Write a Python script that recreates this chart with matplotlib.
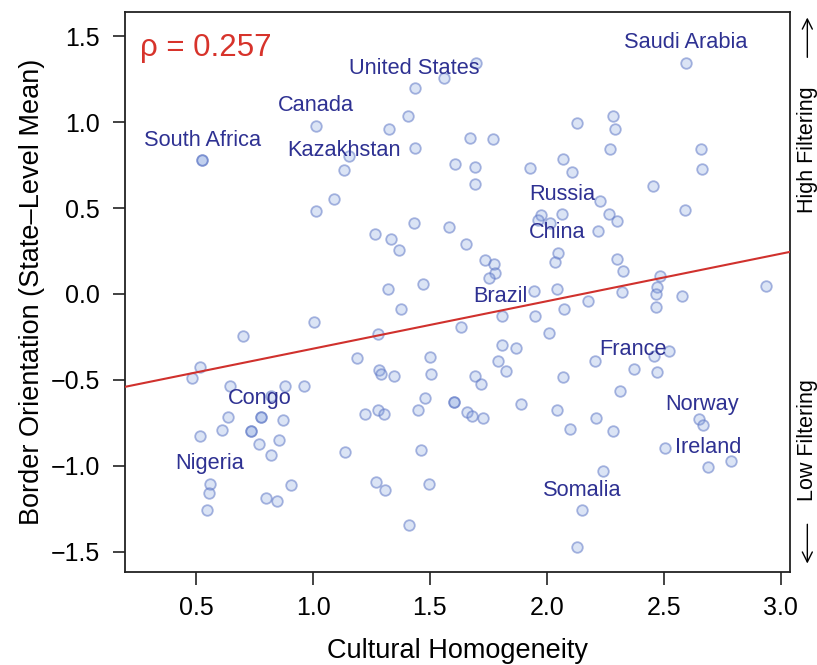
import numpy as np
import matplotlib
matplotlib.use("Agg")
import matplotlib.pyplot as plt

plt.rcParams['font.family'] = ['Liberation Sans', 'DejaVu Sans']

# cultural homogeneity (x) and border orientation (y) per state
homog = [1.438, 1.559, 1.697, 1.406, 1.014, 1.323, 1.438, 0.525, 0.525, 1.152,
         1.132, 1.609, 1.088, 1.012, 1.430, 1.580, 1.263, 1.333, 1.369, 1.655,
         1.319, 1.470, 2.596, 2.127, 2.282, 2.292, 1.673, 1.768, 2.269, 2.658,
         2.070, 2.108, 1.694, 1.926, 2.662, 1.694, 2.452, 2.229, 2.592, 1.977,
         1.963, 2.015, 2.065, 2.265, 2.301, 2.218, 2.048, 2.037, 1.734, 1.773,
         1.777, 1.754, 2.298, 2.325, 2.482, 2.469, 2.936, 1.944, 2.044, 2.320,
         2.580, 2.466, 2.466, 2.177, 2.075, 1.948, 1.808, 1.632, 2.011, 1.808,
         1.867, 1.789, 1.827, 1.691, 1.719, 2.208, 2.459, 2.522, 2.371, 2.472,
         2.071, 2.311, 1.891, 2.043, 2.211, 2.098, 2.285, 1.602, 1.602, 1.659,
         1.680, 1.726, 2.650, 2.668, 2.505, 2.690, 2.787, 2.241, 2.151, 2.130,
         1.378, 1.005, 0.700, 1.278, 0.517, 0.482, 1.186, 1.500, 1.505, 1.283,
         1.289, 1.346, 0.643, 0.820, 0.880, 0.962, 1.479, 0.636, 0.777, 0.777,
         0.870, 1.223, 1.280, 1.302, 1.449, 0.610, 0.734, 0.734, 0.516, 0.767,
         0.855, 0.820, 1.135, 1.460, 0.560, 0.556, 0.547, 0.905, 0.801, 0.845,
         1.269, 1.310, 1.494, 1.410]
orient = [1.198, 1.256, 1.345, 1.035, 0.979, 0.957, 0.849, 0.781, 0.781, 0.800,
          0.723, 0.758, 0.551, 0.485, 0.415, 0.390, 0.347, 0.318, 0.254, 0.289,
          0.030, 0.060, 1.343, 0.996, 1.033, 0.959, 0.907, 0.901, 0.843, 0.843,
          0.785, 0.707, 0.740, 0.733, 0.725, 0.640, 0.628, 0.539, 0.490, 0.457,
          0.428, 0.415, 0.463, 0.465, 0.423, 0.366, 0.240, 0.186, 0.200, 0.172,
          0.122, 0.095, 0.205, 0.132, 0.103, 0.040, 0.047, 0.020, 0.030, 0.010,
          -0.012, 0.000, -0.078, -0.043, -0.087, -0.130, -0.126, -0.194, -0.229, -0.297,
          -0.312, -0.392, -0.446, -0.477, -0.525, -0.390, -0.360, -0.331, -0.436, -0.452,
          -0.484, -0.564, -0.641, -0.676, -0.721, -0.783, -0.798, -0.626, -0.626, -0.688,
          -0.707, -0.721, -0.729, -0.762, -0.895, -1.008, -0.971, -1.031, -1.256, -1.469,
          -0.087, -0.165, -0.242, -0.235, -0.426, -0.490, -0.374, -0.368, -0.465, -0.442,
          -0.465, -0.477, -0.535, -0.591, -0.537, -0.535, -0.603, -0.713, -0.717, -0.717,
          -0.731, -0.696, -0.676, -0.700, -0.676, -0.793, -0.797, -0.797, -0.824, -0.872,
          -0.849, -0.936, -0.917, -0.905, -1.105, -1.159, -1.254, -1.112, -1.184, -1.205,
          -1.095, -1.138, -1.105, -1.345]

countries = ["United States", "Canada", "South Africa", "Kazakhstan", "Saudi Arabia",
             "Russia", "China", "Brazil", "France", "Norway", "Ireland", "Somalia",
             "Congo", "Nigeria"]
label_x = [1.435, 1.014, 0.526, 1.131, 2.595, 2.067, 2.045, 1.801, 2.370, 2.664,
           2.690, 2.150, 0.774, 0.558]
label_y = [1.314, 1.099, 0.895, 0.837, 1.465, 0.576, 0.355, -0.012, -0.320, -0.645,
           -0.890, -1.140, -0.605, -0.988]

rho = 0.257
fit_intercept = -0.594
fit_slope = 0.276

fig = plt.figure(figsize=(8.17, 6.65), dpi=100)
ax = fig.add_axes([0.153, 0.140, 0.814, 0.842])

ax.scatter(homog, orient, s=58, facecolor=(0.50, 0.62, 0.87, 0.28),
           edgecolor=(0.38, 0.48, 0.78, 0.55), linewidth=1.3, zorder=2)

ax.axline((0, fit_intercept), slope=fit_slope, color='#d0312d', lw=1.5, zorder=3)

for name, lx, ly in zip(countries, label_x, label_y):
    ax.text(lx, ly, name, color='#2e3192', fontsize=15.7, ha='center', va='center', zorder=4)

ax.text(0.26, 1.43, "\u03c1 = %.3f" % rho, color='#d7332b', fontsize=22.5,
        ha='left', va='center')

ax.set_xlim(0.196, 3.04)
ax.set_ylim(-1.616, 1.64)
ax.set_xticks([0.5, 1.0, 1.5, 2.0, 2.5, 3.0])
ax.set_yticks([-1.5, -1.0, -0.5, 0.0, 0.5, 1.0, 1.5])
ax.set_xticklabels(["0.5", "1.0", "1.5", "2.0", "2.5", "3.0"])
ax.set_yticklabels(["\u22121.5", "\u22121.0", "\u22120.5", "0.0", "0.5", "1.0", "1.5"])
ax.tick_params(labelsize=18, length=9, width=1.2, pad=8, color='#222222')
ax.tick_params(axis='y', pad=9)
for sp in ax.spines.values():
    sp.set_linewidth(1.3)
    sp.set_color('#222222')

ax.set_xlabel("Cultural Homogeneity", fontsize=19.5, labelpad=13)
ax.set_ylabel("Border Orientation (State\u2013Level Mean)", fontsize=19.5, labelpad=4)

# right-hand side annotations
ax.text(1.026, 0.754, "High Filtering", transform=ax.transAxes, rotation=90,
        ha='center', va='center', fontsize=15.5)
ax.text(1.026, 0.236, "Low Filtering", transform=ax.transAxes, rotation=90,
        ha='center', va='center', fontsize=15.5)
ax.annotate("", xy=(1.026, 0.995), xytext=(1.026, 0.914), xycoords='axes fraction',
            arrowprops=dict(arrowstyle='->', lw=1.0, color='black', mutation_scale=18),
            annotation_clip=False)
ax.annotate("", xy=(1.026, 0.01), xytext=(1.026, 0.09), xycoords='axes fraction',
            arrowprops=dict(arrowstyle='->', lw=1.0, color='black', mutation_scale=18),
            annotation_clip=False)

fig.savefig("out.png", dpi=100)
